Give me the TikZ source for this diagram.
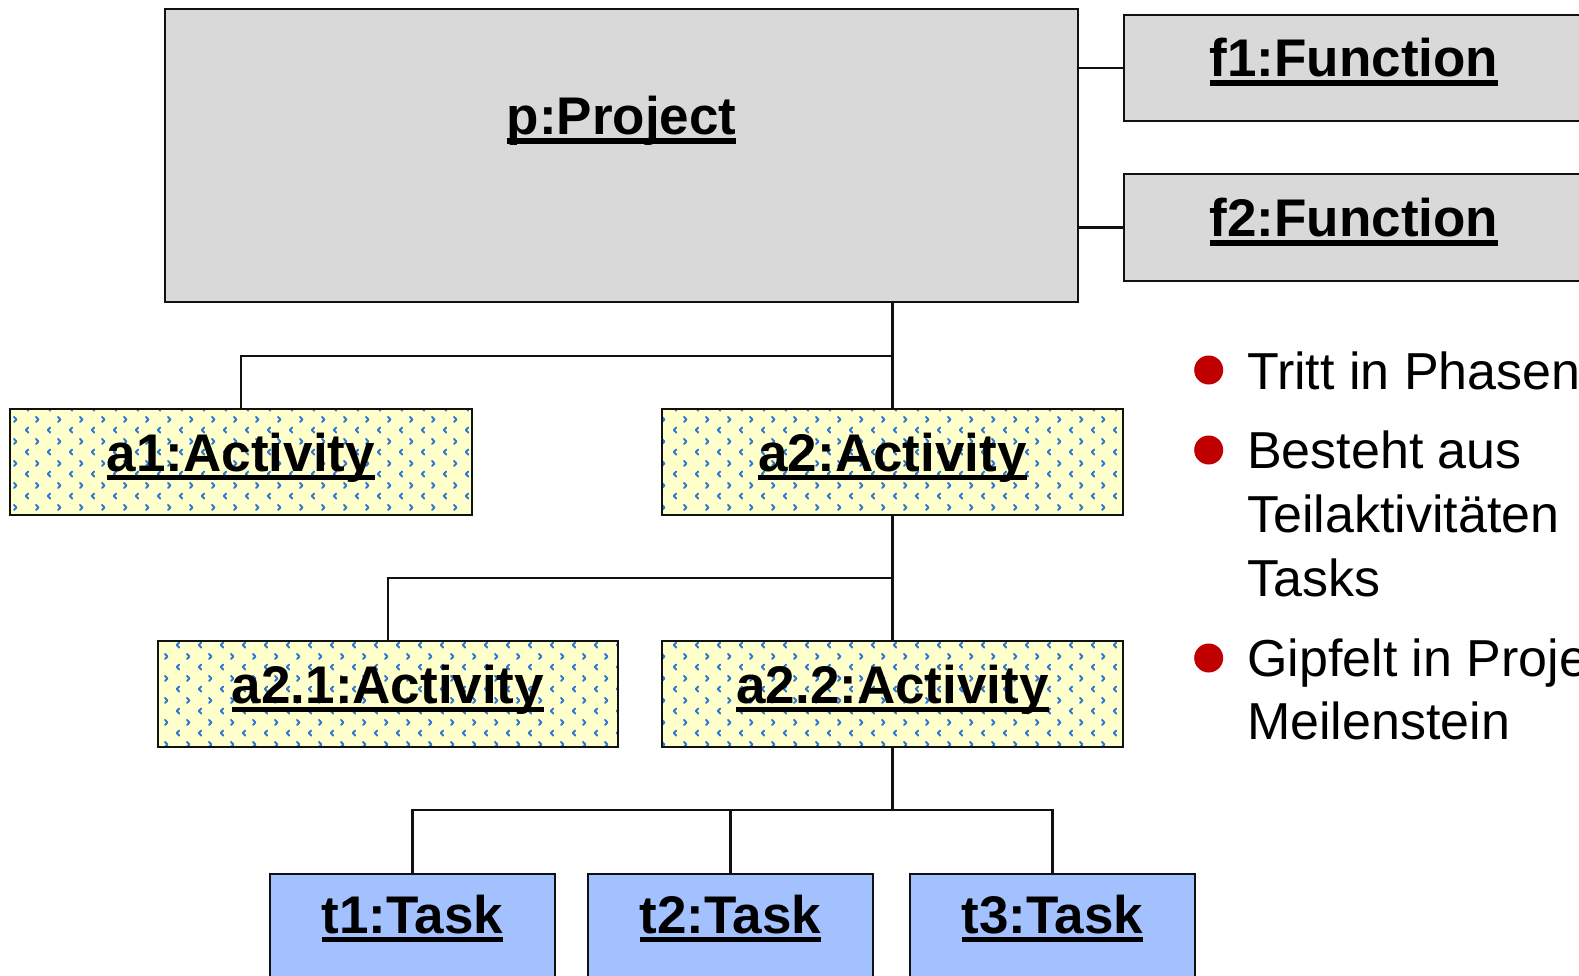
\documentclass[tikz,border=0pt]{standalone}
\usepackage{fontspec}
\setmainfont{Liberation Sans}
\usetikzlibrary{patterns.meta}

\definecolor{boxgray}{HTML}{D9D9D9}
\definecolor{actyellow}{HTML}{FFFFCC}
\definecolor{chevblue}{HTML}{2E78D2}
\definecolor{taskblue}{HTML}{A3C1FF}
\definecolor{bulletred}{HTML}{C00000}
\definecolor{edgeblack}{HTML}{111111}

% underlined object name (UML instance notation)
\newcommand\ulname[1]{\setbox0\hbox{#1}\rlap{\rule[-9pt]{\wd0}{5.5pt}}\box0}

% small blue chevrons on the activity boxes
\tikzdeclarepattern{
  name=chevrons, type=colored,
  bottom left={(0pt,0pt)}, top right={(21.6pt,21.6pt)},
  tile size={(21.6pt,21.6pt)},
  code={
    \draw[chevblue, line width=2pt, line cap=round, line join=round]
      (6.4pt,2.4pt) -- (3.8pt,5pt) -- (6.4pt,7.6pt);
    \draw[chevblue, line width=2pt, line cap=round, line join=round]
      (14.2pt,13.2pt) -- (16.8pt,15.8pt) -- (14.2pt,18.4pt);
  }}

\tikzset{
  objbox/.style={draw=edgeblack, line width=2.6pt, inner sep=0pt, rectangle},
  projbox/.style={objbox, fill=boxgray},
  actbox/.style={objbox, preaction={fill=actyellow}, pattern=chevrons},
  taskbox/.style={objbox, fill=taskblue},
  lbl/.style={anchor=base, inner sep=0pt, font=\fontsize{53}{60}\selectfont\bfseries},
  conn/.style={draw=edgeblack, line width=2.2pt},
  bul/.style={circle, fill=bulletred, minimum size=29pt, inner sep=0pt},
  btext/.style={anchor=base west, inner sep=0pt, font=\fontsize{52}{62}\selectfont},
}

\begin{document}
\begin{tikzpicture}[x=1pt, y=-1pt]
\useasboundingbox (0,0) rectangle (1579,976);
\clip (0,0) rectangle (1579,976);

% objects
\node[projbox, minimum width=913pt, minimum height=293pt] (p) at (621.5,155.5) {};
\node[projbox, minimum width=466pt, minimum height=106pt] (f1) at (1357,68) {};
\node[projbox, minimum width=466pt, minimum height=107pt] (f2) at (1357,227.5) {};
\node[actbox, minimum width=462pt, minimum height=106pt] (a1) at (241,462) {};
\node[actbox, minimum width=461pt, minimum height=106pt] (a2) at (892.5,462) {};
\node[actbox, minimum width=460pt, minimum height=106pt] (a21) at (388,694) {};
\node[actbox, minimum width=461pt, minimum height=106pt] (a22) at (892.5,694) {};
\node[taskbox, minimum width=285pt, minimum height=112pt] (t1) at (412.5,930) {};
\node[taskbox, minimum width=285pt, minimum height=112pt] (t2) at (730.5,930) {};
\node[taskbox, minimum width=285pt, minimum height=112pt] (t3) at (1052.5,930) {};

% object names
\node[lbl] (pL) at (621.5,135) {\ulname{p:Project}};
\node[lbl] (f1L) at (1354,77) {\ulname{f1:Function}};
\node[lbl] (f2L) at (1354,237) {\ulname{f2:Function}};
\node[lbl] (a1L) at (241,471) {\ulname{a1:Activity}};
\node[lbl] (a2L) at (892.5,471) {\ulname{a2:Activity}};
\node[lbl] (a21L) at (388,703) {\ulname{a2.1:Activity}};
\node[lbl] (a22L) at (892.5,703) {\ulname{a2.2:Activity}};
\node[lbl] (t1L) at (412.5,933) {\ulname{t1:Task}};
\node[lbl] (t2L) at (730.5,933) {\ulname{t2:Task}};
\node[lbl] (t3L) at (1052.5,933) {\ulname{t3:Task}};

% junctions of the tree
\coordinate (j1) at (892.5,356);
\coordinate (j2) at (892.5,578);
\coordinate (j3) at (892.5,810);

% links
\draw[conn] (f1.west -| p.east) -- (f1.west);
\draw[conn] (f2.west -| p.east) -- (f2.west);
\draw[conn] (p.south -| a2.north) -- (a2.north);
\draw[conn] (a1.north) |- (j1);
\draw[conn] (a2.south) -- (a22.north);
\draw[conn] (a21.north) |- (j2);
\draw[conn] (a22.south) -- (j3);
\draw[conn] (t1.north) |- (j3) -| (t3.north);
\draw[conn] (t2.north) -- (t2.north |- j3);

% bullet list
\node[bul] (b1) at (1208.7,370) {};
\node[bul] (b2) at (1208.7,450) {};
\node[bul] (b3) at (1208.7,658) {};
\node[btext] (l1) at (1247,389) {Tritt in Phasen};
\node[btext] (l2) at (1247,468) {Besteht aus};
\node[btext] (l3) at (1247,532) {Teilaktivitäten};
\node[btext] (l4) at (1247,596) {Tasks};
\node[btext] (l5) at (1247,676) {Gipfelt in Projekt-};
\node[btext] (l6) at (1247,739) {Meilenstein};
\end{tikzpicture}
\end{document}
